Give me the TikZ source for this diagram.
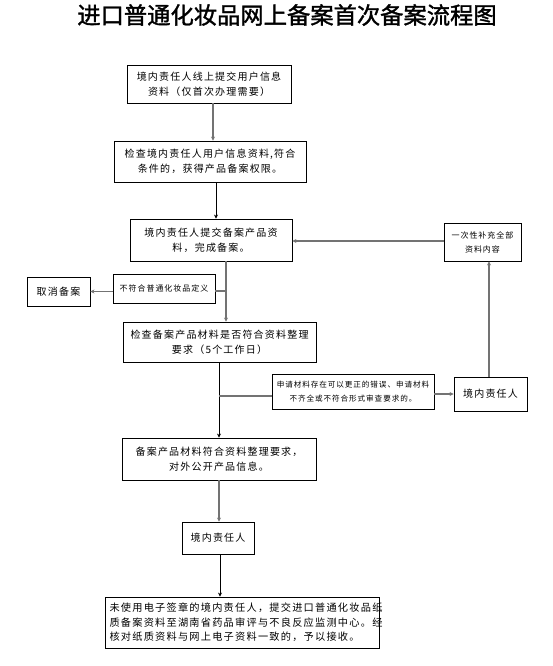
\documentclass[tikz,border=0pt]{standalone}
\usepackage{fontspec}
\setmainfont{Noto Sans CJK SC}[LetterSpace=12]
\newfontfamily\titlefont{Noto Sans CJK SC}[BoldFont=*,FakeBold=1.5]
\usetikzlibrary{arrows.meta,calc}
\tikzset{
  box/.style={draw=black,line width=0.8pt,inner sep=1pt,align=center,font=\fontsize{10}{15}\selectfont},
  smallbox/.style={box,font=\fontsize{7.6}{14}\selectfont},
  gline/.style={draw=black!55,line width=1.4pt},
  bline/.style={draw=black,line width=0.8pt},
  arr/.style={-{Stealth[length=4pt,width=4pt]}},
}
\begin{document}
\begin{tikzpicture}[x=1pt,y=-1pt]
\useasboundingbox (0,0) rectangle (553,666);
\fill[white] (0,0) rectangle (553,666);
\node[font=\titlefont\fontsize{23.3}{25}\selectfont] (title) at (287,15) {进口普通化妆品网上备案首次备案流程图};

\node[box,minimum width=164pt,minimum height=38pt] (b1) at (209,84) {境内责任人线上提交用户信息\\资料（仅首次办理需要）};
\node[box,minimum width=192pt,minimum height=41pt] (b2) at (210,161.5) {检查境内责任人用户信息资料,符合\\条件的，获得产品备案权限。};
\node[box,minimum width=162pt,minimum height=42pt] (b3) at (211,240) {境内责任人提交备案产品资\\料，完成备案。};
\node[box,minimum width=63pt,minimum height=29pt] (cancel) at (58.5,291.5) {取消备案};
\node[smallbox,font=\fontsize{8}{12}\selectfont,minimum width=102pt,minimum height=29pt] (nc) at (164,288.5) {不符合普通化妆品定义};
\node[box,minimum width=193pt,minimum height=40pt] (b4) at (219.5,342) {检查备案产品材料是否符合资料整理\\要求（5个工作日）};
\node[smallbox,font=\fontsize{8}{14}\selectfont,minimum width=77pt,minimum height=38pt] (supp) at (482.5,242) {一次性补充全部\\资料内容};
\node[box,minimum width=73pt,minimum height=34pt] (resp) at (490.5,394) {境内责任人};
\node[smallbox,minimum width=162pt,minimum height=35pt] (mid) at (353,391.5) {申请材料存在可以更正的错误、申请材料\\不齐全或不符合形式审查要求的。};
\node[box,minimum width=194pt,minimum height=42pt] (b5) at (219,459) {备案产品材料符合资料整理要求，\\对外公开产品信息。};
\node[box,minimum width=72pt,minimum height=32pt] (b6) at (218,538) {境内责任人};
\node[box,align=left,text width=266pt,minimum height=51pt,inner sep=4pt,font=\fontsize{10.2}{14.5}\selectfont] (b7) at (242.5,622.5) {未使用电子签章的境内责任人，提交进口普通化妆品纸\\质备案资料至湖南省药品审评与不良反应监测中心。经\\核对纸质资料与网上电子资料一致的，予以接收。};

% main flow
\draw[gline,arr] (b1.south -| 213,0) -- (b2.north -| 213,0);
\draw[bline,arr] (b2.south -| 216,0) -- (b3.north -| 216,0);
\draw[gline,arr] (b3.south -| 226,0) -- (b4.north -| 226,0);
\coordinate (j1) at (226,291);
\draw[gline] (j1) -- (nc.east |- j1);
\draw[gline,arr] (nc.west |- cancel) -- (cancel.east);
\draw[bline,arr] (b4.south -| 219,0) -- (b5.north -| 219,0);
\coordinate (j2) at (219,396);
\draw[gline] (j2) -- (mid.west |- j2);
\draw[gline,arr] (mid.east |- resp) -- (resp.west);
\draw[gline,arr] (resp.north -| 489,0) -- (supp.south -| 489,0);
\draw[gline,arr] (supp.west |- 0,241) -- (b3.east |- 0,241);
\draw[gline,arr] (b5.south -| 219,0) -- (b6.north -| 219,0);
\draw[bline,arr] (b6.south -| 220,0) -- (b7.north -| 220,0);
\end{tikzpicture}
\end{document}
